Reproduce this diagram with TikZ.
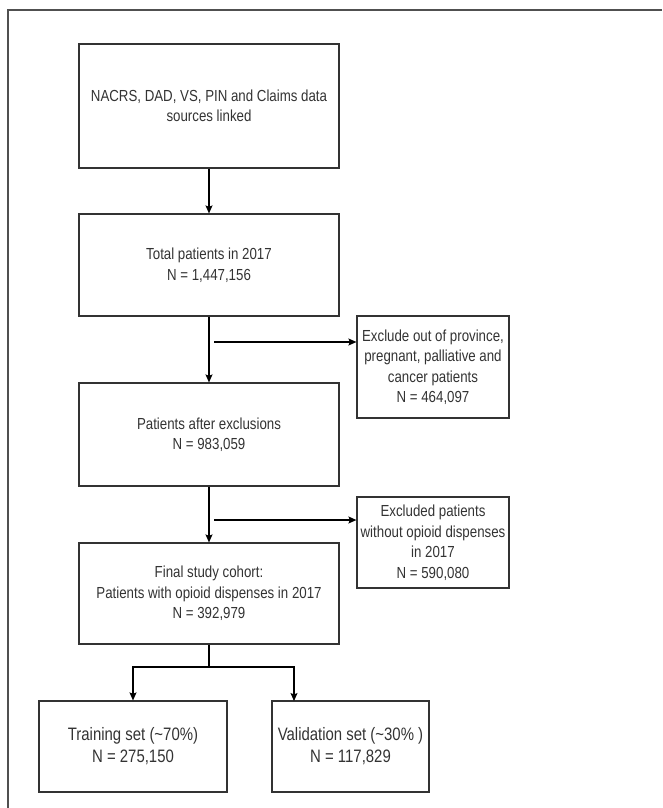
\documentclass[tikz,border=0pt]{standalone}
\usepackage{fontspec}
\setmainfont{Liberation Sans}[FakeStretch=0.83]
\usetikzlibrary{arrows.meta}
\definecolor{boxline}{HTML}{333333}
\definecolor{txt}{HTML}{333333}
\definecolor{frame}{HTML}{505050}
\begin{document}
\begin{tikzpicture}[x=1pt,y=-1pt,
  box/.style={draw=boxline, line width=1.2pt, rectangle, align=center, inner sep=2pt,
    text=txt, font=\fontsize{16}{20.5}\selectfont},
  bigbox/.style={box, font=\fontsize{18}{22}\selectfont},
  arr/.style={draw=black, line width=1.1pt, -{Stealth[length=8pt,width=7pt,inset=1.5pt]}},
  ln/.style={draw=black, line width=1.1pt}]
\useasboundingbox (0,0) rectangle (662,808);
\draw[frame, line width=1.3pt] (8,808) -- (8,10) -- (662,10);

\node[box, minimum width=260pt, minimum height=124pt] (b1) at (209,106)
  {NACRS, DAD, VS, PIN and Claims data\\sources linked};
\node[box, minimum width=260pt, minimum height=102pt] (b2) at (209,265)
  {Total patients in 2017\\N = 1,447,156};
\node[box, minimum width=260pt, minimum height=103pt] (b3) at (209,434.5)
  {Patients after exclusions\\N = 983,059};
\node[box, minimum width=260pt, minimum height=101pt] (b4) at (209,593.5)
  {Final study cohort:\\Patients with opioid dispenses in 2017\\N = 392,979};
\node[box, minimum width=152pt, minimum height=102pt] (e1) at (433,367)
  {Exclude out of province,\\pregnant, palliative and\\cancer patients\\N = 464,097};
\node[box, minimum width=152pt, minimum height=91pt] (e2) at (433,542.5)
  {Excluded patients\\without opioid dispenses\\in 2017\\N = 590,080};
\node[bigbox, minimum width=188pt, minimum height=91pt] (tr) at (133,746.5)
  {Training set (\textasciitilde70\%)\\N = 275,150};
\node[bigbox, minimum width=157pt, minimum height=91pt] (va) at (350.5,746.5)
  {Validation set (\textasciitilde30\% )\\N = 117,829};

\coordinate (s1) at (214,342);
\coordinate (s2) at (214,520);
\coordinate (split) at (209,667);
\coordinate (vin) at (294,701);

\draw[arr] (b1.south) -- (b2.north);
\draw[arr] (b2.south) -- (b3.north);
\draw[arr] (b3.south) -- (b4.north);
\draw[arr] (s1) -- (s1 -| e1.west);
\draw[arr] (s2) -- (s2 -| e2.west);
\draw[ln] (b4.south) -- (split);
\draw[arr] (split) -| (tr.north);
\draw[arr] (split) -| (vin);
\end{tikzpicture}
\end{document}
